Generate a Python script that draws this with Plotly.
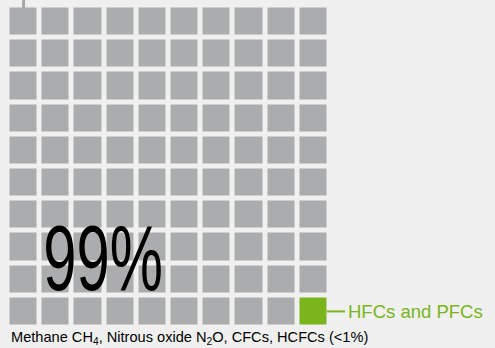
import plotly.graph_objects as go

# ---- data ----
n_rows = 10
n_cols = 10
categories = ["Methane CH4, Nitrous oxide N2O, CFCs, HCFCs", "HFCs and PFCs"]
counts = [99, 1]
big_label = "99%"
bottom_label = "Methane CH<sub>4</sub>, Nitrous oxide N<sub>2</sub>O, CFCs, HCFCs (<1%)"
green_label = "HFCs and PFCs"

GRAY = "#abacad"
GREEN = "#7ab51d"
BG = "#eff0ef"

# build the 10x10 waffle grid, filled row by row from the top-left
cells = []
for ci, c in enumerate(counts):
    cells += [ci] * c
z = [cells[r * n_cols:(r + 1) * n_cols] for r in range(n_rows)]

W, H = 495, 348
x0, x1 = 7.5, 329.5
y0, y1 = 5.5, 327.5
pitch_x = (x1 - x0) / n_cols
pitch_y = (y1 - y0) / n_rows

fig = go.Figure(go.Heatmap(
    z=z,
    x=list(range(n_cols)),
    y=list(range(n_rows)),
    xgap=5, ygap=5,
    zmin=0, zmax=1,
    colorscale=[[0, GRAY], [0.5, GRAY], [0.5, GREEN], [1, GREEN]],
    showscale=False,
    hoverinfo="skip",
))

fig.update_layout(
    width=W, height=H,
    margin=dict(l=0, r=0, t=0, b=0),
    paper_bgcolor=BG, plot_bgcolor="rgba(0,0,0,0)",
    xaxis=dict(domain=[x0 / W, x1 / W], range=[-0.5, n_cols - 0.5],
               visible=False, fixedrange=True),
    yaxis=dict(domain=[1 - y1 / H, 1 - y0 / H], range=[n_rows - 0.5, -0.5],
               visible=False, fixedrange=True),
    showlegend=False,
)

# leader line at top (from column 0 up to the top edge)
col0_center = (x0 + pitch_x / 2) / W
fig.add_shape(type="line", xref="paper", yref="paper", x0=col0_center, x1=col0_center,
              y0=1 - (y0 + 2.5) / H, y1=1.0, line=dict(color="#a6a7ab", width=3))

# green leader line from the last cell to its label
last_right = (x1 - 2.5) / W
last_mid = 1 - (y1 - pitch_y / 2) / H
fig.add_shape(type="line", xref="paper", yref="paper", x0=last_right, x1=last_right + 18 / W,
              y0=last_mid, y1=last_mid, line=dict(color=GREEN, width=2))

fig.add_annotation(text=green_label, xref="paper", yref="paper",
                   x=last_right + 19 / W, y=last_mid,
                   xanchor="left", yanchor="middle", showarrow=False,
                   font=dict(family="Liberation Sans, Arial", size=18.5, color=GREEN))

fig.add_annotation(text=big_label, xref="paper", yref="paper",
                   x=103 / W, y=1 - 258 / H, xanchor="center", yanchor="middle",
                   showarrow=False,
                   font=dict(family="Liberation Sans, Arial", size=92, color="#000000"))

fig.add_annotation(text=bottom_label, xref="paper", yref="paper",
                   x=9 / W, y=1 - 338 / H, xanchor="left", yanchor="middle",
                   showarrow=False,
                   font=dict(family="Liberation Sans, Arial", size=14.6, color="#000000"))

post = """
document.body.style.margin = '0';
var els = document.querySelectorAll('.annotation-text');
els.forEach(function(e){
  if (e.textContent === '99%') {
    e.style.transformBox = 'fill-box';
    e.style.transformOrigin = 'center';
    e.style.transform = 'scaleX(0.65)';
  }
});
"""

fig.write_html("out.html", config={"displayModeBar": False}, post_script=post)
